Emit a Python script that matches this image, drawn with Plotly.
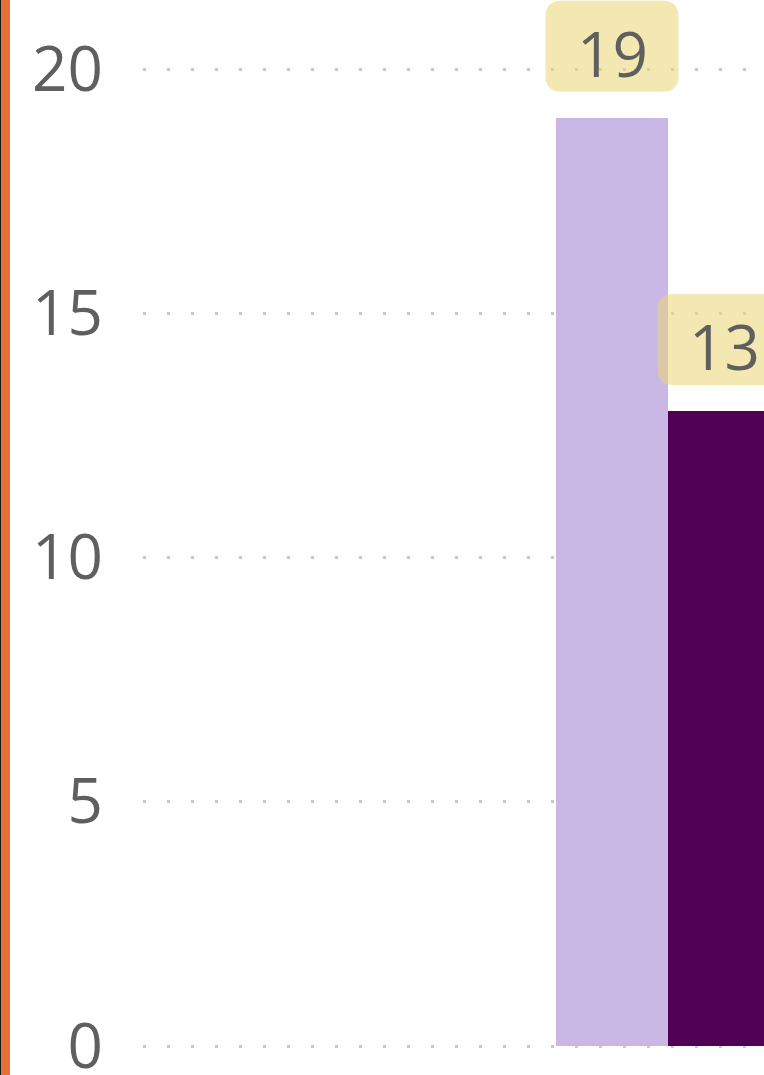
import plotly.graph_objects as go

# ---- data ----
series_names = ["Series A", "Series B"]
values = [19, 13]
bar_colors = ["#C9B8E6", "#500055"]
y_ticks = [0, 5, 10, 15, 20]

W, H = 764, 1075
L_MARGIN = 143
FONT = "Open Sans"
TXT = "#5F5F5F"

fig = go.Figure()
for i, (name, v, c) in enumerate(zip(series_names, values, bar_colors)):
    fig.add_trace(go.Bar(x=[i], y=[v], name=name, marker=dict(color=c, line=dict(width=0)),
                         width=1, hoverinfo="skip", showlegend=False))

# label boxes (rounded, semi-transparent) + texts
bw, gap, bh, r = 133, 26, 91, 16
x0, x1 = -bw / 2, bw / 2
y0, y1 = gap, gap + bh
path = (f"M {x0 + r},{y0} L {x1 - r},{y0} Q {x1},{y0} {x1},{y0 + r} "
        f"L {x1},{y1 - r} Q {x1},{y1} {x1 - r},{y1} L {x0 + r},{y1} "
        f"Q {x0},{y1} {x0},{y1 - r} L {x0},{y0 + r} Q {x0},{y0} {x0 + r},{y0} Z")
for i, v in enumerate(values):
    fig.add_shape(type="path", path=path, xref="x", yref="y",
                  xsizemode="pixel", ysizemode="pixel", xanchor=i, yanchor=v,
                  fillcolor="rgba(234,214,115,0.55)", line=dict(width=0), layer="above")
    fig.add_annotation(x=i, y=v, text=str(v), showarrow=False, xanchor="center",
                       yanchor="middle", yshift=gap + bh / 2 - 7,
                       font=dict(family=FONT, size=62, color=TXT))

# left orange strip
fig.add_shape(type="rect", xref="paper", yref="paper",
              x0=-L_MARGIN / (W - L_MARGIN), x1=(10 - L_MARGIN) / (W - L_MARGIN),
              y0=0, y1=1, fillcolor="#E8703A", line=dict(width=0), layer="above")
fig.add_shape(type="rect", xref="paper", yref="paper",
              x0=-L_MARGIN / (W - L_MARGIN), x1=(1 - L_MARGIN) / (W - L_MARGIN),
              y0=0, y1=1, fillcolor="#1A1A1A", line=dict(width=0), layer="above")

px_per_unit = 48.85
y_bottom = -(H - 1046) / px_per_unit
y_top = 1046 / px_per_unit
bar_px = 112
x_left = (L_MARGIN - 612) / bar_px
x_right = (W - 612) / bar_px

fig.update_layout(
    width=W, height=H, margin=dict(l=L_MARGIN, r=0, t=0, b=0, autoexpand=False),
    paper_bgcolor="white", plot_bgcolor="white",
    bargap=0, barmode="group",
    xaxis=dict(range=[x_left, x_right], visible=False, showgrid=False, zeroline=False,
               automargin=False),
    yaxis=dict(range=[y_bottom, y_top], tickvals=y_ticks, ticktext=[str(t) for t in y_ticks],
               showgrid=True, gridcolor="#C8C8C8", gridwidth=3, griddash="3px,21px",
               zeroline=False, showline=False, ticks="", ticklabelstandoff=39,
               ticklabeloverflow="allow", automargin=False,
               tickfont=dict(family=FONT, size=62, color=TXT)),
    font=dict(family=FONT),
)

fig.write_html("out.html", config={"displayModeBar": False},
               post_script="document.body.style.margin='0';document.body.style.overflow='hidden';")
